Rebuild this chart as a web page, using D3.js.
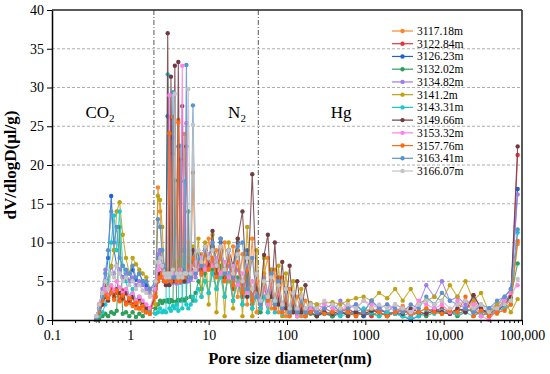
<!DOCTYPE html>
<html>
<head>
<meta charset="utf-8">
<script src="https://cdn.jsdelivr.net/npm/d3@7"></script>
<style>
  body { margin: 0; background: #fff; }
  svg { display: block; font-family: "Liberation Serif", "Times New Roman", serif; }
</style>
</head>
<body>
<svg width="550" height="374"></svg>
<script>
// sample depths (legend)
const depths = ["3117.18m", "3122.84m", "3126.23m", "3132.02m", "3134.82m", "3141.2m",
  "3143.31m", "3149.66m", "3153.32m", "3157.76m", "3163.41m", "3166.07m"];

// pore diameters (nm) for the three methods
const co2X = [0.37, 0.40, 0.44, 0.48, 0.52, 0.57, 0.62, 0.67, 0.73, 0.80, 0.88, 0.97, 1.07, 1.18, 1.30, 1.44, 1.60, 1.78];
const n2X = [2.1, 2.25, 2.4, 2.55, 2.7, 2.85, 3.0, 3.15, 3.3, 3.5, 3.7, 3.9, 4.1, 4.35, 4.6, 4.9, 5.2, 5.5,
  5.9, 6.3, 6.8, 7.4, 8.1, 9.0, 10, 11.2, 12.6, 14.2, 16, 18, 20.5, 23.5, 27, 31, 36, 41];
const hgX = [46, 51, 57, 63, 70, 78, 87, 97, 108, 120, 135, 152, 172, 200, 240, 300, 380, 480, 600, 760,
  950, 1200, 1500, 1900, 2400, 3000, 3800, 4800, 6000, 7600, 9500, 12000, 15000, 19000, 24000, 30000,
  38000, 48000, 60000, 72000, 88000];

// dV/dlogD values, one array per sample: CO2 | N2 | Hg
const v3117 = [0,1.5,3,3.8,3.2,4,3.5,3.9,3,2.6,3.4,2.2,2.8,1.5,2.4,1.2,1.8,1,
  3.5,17.1,14,6.8,5.5,5.2,6,5,26,5.2,7,5,25.8,5.5,9,24,5.4,8,5.5,19,6,7.5,8.5,6.5,10.5,7,9,6.5,10,5,9.5,3,8.5,2,10.5,1,
  2,6,8,1.5,6.5,1,5.5,0.5,4,1,3,0.5,2.5,1,0.5,1.5,1,0.8,1.2,1,0.5,1.5,1,0.5,1,1.8,0.8,1,1.5,1,1.2,0.8,1.5,1.2,2.5,0.5,1,0.8,1.5,3,9.8];
const v3122 = [0.5,2,3.5,4.5,3,4.2,3,3.5,2.5,3.8,2.2,3,2,2.5,1.5,2,1,0.8,
  4,6,5.5,7,6,5.5,6,5,6,23.5,5.5,6,5.5,20.7,5,6,5,7,5.5,8,6,8,6.5,9,7,8,6,9.5,5.5,8,4,9,3,7,2,6,
  1.5,5,3,6,2,5.5,1.5,4,1,3.5,0.8,2.5,1,1.5,0.8,1,0.5,1,1.5,0.8,1,0.5,1.2,1,0.8,1.5,0.5,1,0.8,1.2,1.5,1,0.8,1.2,3.2,1.5,0.5,1.2,2,2.5,21.3];
const v3126 = [0,1,3,5,8,16,9,7,6.5,5.5,6,5,6.5,5.2,6,5,4.5,4,
  4.5,8,9,7,6,5.5,26.3,5,5.5,21.5,5,6,5.5,6,5,6.5,5,7,6,8,7,8.5,7.5,9,8,9.5,7,10,6,9,5,10,4,9,3,5,
  2,4,3,5,2.5,4,1.5,3.5,1,3,0.8,2,0.5,1.5,1,0.8,0.5,1,0.8,1.2,0.5,1,1.5,0.8,1,0.5,0,0.5,1,1.5,1,0.8,1.2,1.5,1,0.8,1.5,1,2,3.5,16.9];
const v3132 = [0,0.2,0.5,0.8,0.5,1,0.8,1.2,12,0.8,1,0.5,1,0.4,0.8,0.5,1.2,1.5,
  1.5,2,2.5,2.2,2.5,2.4,2.6,2.3,2.6,2.4,18,2.4,2.6,2.5,2.7,2.5,2.8,14,3,2.5,3.5,5,4,6,3.5,6.5,4,7,3,6,2.5,5.5,2,6,1.5,4,
  1,3,2,3.5,1.5,3,1,2.5,0.8,2,0.5,1.5,1,0.8,0.5,1,0.5,0.8,1,0.5,1,0.8,0.5,1,0.8,0.5,1,0.8,0.5,1,0.8,1,0.5,1,1.5,0.5,1,1.5,2.5,3,7.3];
const v3134 = [0.5,2,4,6.5,5,6.8,6,7,6.5,5.5,6,5,5.5,4.5,5,4.5,4,3.5,
  4,8.5,9,6,5,4.8,5,4.7,5,4.8,5,4.7,22.4,4.8,5,4.9,25.4,5,5.2,6,5.5,6.5,5.8,7,6.5,7.5,6,8,5.5,7,5,6.5,4,7,3,5,
  2,5.5,3.5,6.5,2.5,5,2,4,1.5,3.5,1,3,1.5,1,2,1.5,1,2.5,1.5,2,1,2.5,1.5,1,2,1.5,0.5,2,4.5,3,5,2.5,3,2,2.8,1,1.5,2,3,4,16.2];
const v3141 = [0,0.5,2,3,4.5,7,9,14,15.2,11,8,6,8,7.2,6.5,6,5.5,4,
  2,16,15.5,12,7,6,5.5,6.5,7,22,6,7.5,6,8,5.5,9,6,10,6.5,9.5,7,10.5,3,10,2,11,1,9.5,0.5,10,1.5,10.5,0.5,12,0.5,9,
  2,8,1,6.5,2,7,0.5,6,1,5,0.5,4,0.5,2.2,2,2.2,2.3,2,2.5,2.8,3,2.5,3.5,2.8,4,2.5,4,2.2,2.5,3,2.5,4.5,3,5,2.5,3.5,1,2,2.5,1,2.7];
const v3143 = [0,0.5,1,2,5,10,13.5,9,14,7,5,3,4,2.5,3,2,1.5,1,
  0.8,1,1.5,1,1.2,1,31.7,1.5,1.2,1.8,1.5,2,1.2,22.5,1.5,17.9,2,1.5,2,3,2.5,4,3,5,3.5,6,4,5.5,3,6,2.5,5,2,4.5,1.5,3,
  1.5,3,1,3.5,1,2.5,0.8,2,0.5,1.5,0.5,1,0.5,1,0.5,0.8,1,0.5,0.8,1,1.5,1,0.5,1,0.8,0.5,0.2,0.5,1,0.8,1.2,1,0.8,1,0.5,1,0.8,1.2,1.5,2,11.3];
const v3149 = [0,1,2,3,2.5,3.5,3,4,3.5,2.8,3.5,2.5,3,2,2.8,2,1.5,1.5,
  3,5,6,5.5,5,4.5,37,4.5,31.4,5,32.8,5,33.3,5,27.6,5,22.4,6,6.5,9,7.5,8,6.5,9.5,7,11.5,6,10.5,5.5,9,7,10.5,14,3,18.8,4,
  3,8.4,11,3,10,2,7.5,1.5,7,1,5,1,4.5,1,0.5,1,0.8,1.2,0.5,1,0.8,1.2,1,0.5,1,0.8,1.5,1,0.8,1.2,1,0.8,1.5,1,3.2,1.5,0.8,1.5,2,3,22.4];
const v3153 = [0.5,1.5,2.5,4,3,4.5,3.8,5,4.2,3.5,4,3,3.5,2.5,3,2.5,2,1.5,
  4,6.5,7,6,5.5,5,6,29,5.5,6,5.5,6,5,6.5,32.8,6,25.4,6.5,7,6,7.5,7,8,6.5,8.5,7,8,6,7.5,5.5,7,4.5,6,3.5,5,3,
  2.5,4,2,4.5,1.5,3.5,1,3,1,2.5,0.5,2,1,1.5,1,2,1.5,1,2,1.5,2.5,2,1.5,2,1,1.5,1,2.5,2,1.5,2,1,2.5,1.5,2,0.5,0,1.5,2.5,3.5,4.5];
const v3157 = [0,1,2.5,3.2,2.8,3.5,2.6,3.8,2.4,3.2,2,2.8,1.8,2.2,1.5,1.8,1,0.8,
  3,5,5.5,6,5,5,5.5,24.1,5,26.2,5.5,5,25.5,5,6,5.5,6,7,6,8,6.5,7.5,6,8.5,6.5,8,5.5,9,5,8,4.5,7.5,3.5,6.5,2.5,5,
  2,4.5,2.5,5,1.5,4,1,3,0.5,2.5,1,2,0.5,1,1.5,0.8,1,1.5,1,0.5,1,1.5,1,0.5,1,1.2,0.8,1,1.5,1,0.8,1.2,1,3,0.5,1.2,0.5,1,1.2,2,10.2];
const v3163 = [0,1.5,3,6,9,14,10,12,8,7,6.5,6,7,5.5,6,5,5,4,
  5,13,12,9,7,6,5.5,6,5.5,29.4,5.5,6,5.5,6,5.5,6,32.9,6,5.5,27.7,6,8,7,9,8,10,7,10.5,6,9,5.5,9.5,10,4,8,3,
  2,5,3,6,2,5,1.5,4,1,3.5,1,2.5,1,2,1,1.5,2,1,1.5,2,1,2.5,1.5,2,1.5,1,2,1.5,3,2,3.5,2.5,2,1.5,1,2,1.5,2.5,3,4,11.7];
const v3166 = [0.5,2,3.5,5,4,6,5.5,7,6,5,5.5,4.5,5,4,4.5,3.8,3.5,3,
  5,7.5,8,7,6,5.5,6,5.5,6,6.5,29.2,6,5.5,6,5.5,6,6,29.8,6,25.2,6.5,9,7.5,9.5,8,9,7,9.5,6.5,9,6,8.5,5,8,4,6,
  2.5,5,3,5.5,2.5,4.5,2,4,1.5,3.5,1.5,3,1.5,2,1.5,2.5,2,1.5,2,1.5,2.5,1.5,2,1.5,2,1.5,1,2,2.5,2,2.5,1.5,2,2.5,1.5,2,1,1.5,2,2.5,5.3];

const seriesValues = [v3117, v3122, v3126, v3132, v3134, v3141, v3143, v3149, v3153, v3157, v3163, v3166];
const yTicks = [0, 5, 10, 15, 20, 25, 30, 35, 40];
const xTicks = [0.1, 1, 10, 100, 1000, 10000, 100000];
const xTickLabels = ["0.1", "1", "10", "100", "1000", "10,000", "100,000"];
const bounds = [2, 43]; // method boundaries (nm)
// region labels: text, subscript, position (nm)
const regionLabels = [["CO", "2", 0.41], ["N", "2", 23], ["Hg", "", 490]];

const colors = ["#f7862a", "#e8323c", "#2160d0", "#2e9e5b", "#9f7ce8", "#bfa112",
  "#1cc9c9", "#6e3c42", "#ff80e6", "#ff6a10", "#5b93cc", "#c4c4c4"];

const allX = co2X.concat(n2X, hgX);

const svg = d3.select("svg");
const mL = 52, mR = 522, mT = 10, mB = 320;

const x = d3.scaleLog().domain([0.1, 100000]).range([mL, mR]);
const y = d3.scaleLinear().domain([0, 40]).range([mB, mT]);

// grid
svg.append("g")
  .selectAll("line")
  .data(yTicks.filter(d => d > 0 && d < 40))
  .join("line")
  .attr("x1", mL).attr("x2", mR)
  .attr("y1", d => y(d)).attr("y2", d => y(d))
  .attr("stroke", "#9a9a9a")
  .attr("stroke-width", 0.8)
  .attr("stroke-dasharray", "3,2");

// method boundaries
svg.append("g")
  .selectAll("line")
  .data(bounds)
  .join("line")
  .attr("x1", d => x(d)).attr("x2", d => x(d))
  .attr("y1", mT).attr("y2", mB)
  .attr("stroke", "#444")
  .attr("stroke-width", 0.9)
  .attr("stroke-dasharray", "5,2,1,2");

// series
const line = d3.line()
  .x(d => x(d[0]))
  .y(d => y(d[1]));

const plot = svg.append("g");
seriesValues.forEach((vals, i) => {
  const pts = vals.map((v, j) => [allX[j], v]);
  const g = plot.append("g");
  g.append("path")
    .datum(pts)
    .attr("d", line)
    .attr("fill", "none")
    .attr("stroke", colors[i])
    .attr("stroke-opacity", 0.85)
    .attr("stroke-width", 1.1);
  g.selectAll("circle")
    .data(pts)
    .join("circle")
    .attr("cx", d => x(d[0]))
    .attr("cy", d => y(d[1]))
    .attr("r", 2.2)
    .attr("fill", colors[i]);
});

// axes
const xAxis = d3.axisBottom(x)
  .tickValues(xTicks)
  .tickFormat((d, i) => xTickLabels[i])
  .tickSize(5)
  .tickSizeOuter(0);
const gx = svg.append("g")
  .attr("transform", `translate(0,${mB})`)
  .call(xAxis);
gx.selectAll("text").attr("font-size", 14).attr("font-family", "Liberation Serif").attr("fill", "#000").attr("dy", "0.85em");
gx.select(".domain").attr("stroke-width", 1.5);

// minor ticks
const minor = [];
for (let e = -1; e < 5; e++) {
  for (let k = 2; k < 10; k++) minor.push(k * Math.pow(10, e));
}
svg.append("g")
  .selectAll("line")
  .data(minor)
  .join("line")
  .attr("x1", d => x(d)).attr("x2", d => x(d))
  .attr("y1", mB).attr("y2", mB + 3)
  .attr("stroke", "#000");

const yAxis = d3.axisLeft(y)
  .tickValues(yTicks)
  .tickSize(5)
  .tickSizeOuter(0);
const gy = svg.append("g")
  .attr("transform", `translate(${mL},0)`)
  .call(yAxis);
gy.selectAll("text").attr("font-size", 14).attr("font-family", "Liberation Serif").attr("fill", "#000");
gy.select(".domain").attr("stroke-width", 1.5);

// frame top/right
svg.append("line").attr("x1", mL).attr("x2", mR).attr("y1", mT).attr("y2", mT)
  .attr("stroke", "#222").attr("stroke-width", 1.5);
svg.append("line").attr("x1", mR).attr("x2", mR).attr("y1", mT).attr("y2", mB)
  .attr("stroke", "#222").attr("stroke-width", 1.5);

// axis titles
svg.append("text")
  .attr("transform", `translate(16,${(mT + mB) / 2}) rotate(-90)`)
  .attr("text-anchor", "middle")
  .attr("font-weight", "bold")
  .attr("font-size", 17)
  .text("dV/dlogD(μl/g)");
svg.append("text")
  .attr("x", 290)
  .attr("y", 364)
  .attr("text-anchor", "middle")
  .attr("font-weight", "bold")
  .attr("font-size", 16.5)
  .text("Pore size diameter(nm)");

// region labels
regionLabels.forEach(r => {
  const t = svg.append("text")
    .attr("x", x(r[2]))
    .attr("y", 118)
    .attr("text-anchor", "middle")
    .attr("font-size", 17);
  t.append("tspan").text(r[0]);
  if (r[1]) t.append("tspan").attr("font-size", 11).attr("dy", 4).text(r[1]);
});

// legend
const leg = svg.append("g");
depths.forEach((name, i) => {
  const ly = 31 + i * 12.73;
  leg.append("line").attr("x1", 392).attr("x2", 413).attr("y1", ly).attr("y2", ly)
    .attr("stroke", colors[i]).attr("stroke-width", 1.2);
  leg.append("circle").attr("cx", 402.5).attr("cy", ly).attr("r", 2.2).attr("fill", colors[i]);
  leg.append("text").attr("x", 417).attr("y", ly + 4)
    .attr("font-size", 11.5)
    .text(name);
});
</script>
</body>
</html>
